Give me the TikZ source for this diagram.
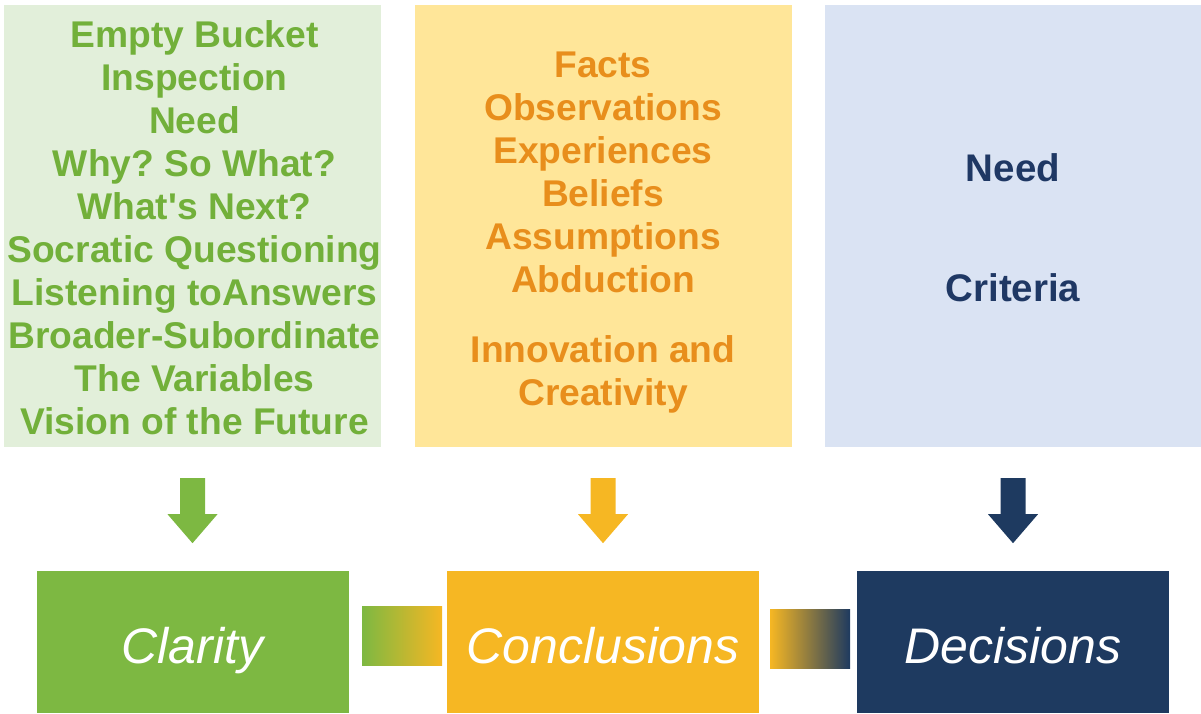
\documentclass[tikz,border=0pt]{standalone}
\usepackage{fontspec}
\setmainfont{Liberation Sans}
\usepackage{tikz}
\usetikzlibrary{positioning}
\definecolor{clarity}{RGB}{125,184,66}
\definecolor{clarityback}{RGB}{226,239,218}
\definecolor{claritytext}{RGB}{114,176,58}
\definecolor{conclusions}{RGB}{246,183,35}
\definecolor{conclusionsback}{RGB}{255,230,153}
\definecolor{conclusionstext}{RGB}{232,142,28}
\definecolor{decisions}{RGB}{30,58,96}
\definecolor{decisionsback}{RGB}{218,227,243}
\definecolor{decisionstext}{RGB}{31,56,100}
\frenchspacing

\begin{document}
\begin{tikzpicture}[x=1pt, y=-1pt]
    % Define styles
    \tikzstyle{panel} = [rectangle, minimum width=377pt, minimum height=442pt, inner sep=0pt]
    \tikzstyle{listtext} = [inner sep=0pt, align=center, font=\fontsize{37.2}{43}\selectfont\bfseries]
    \tikzstyle{result} = [rectangle, minimum width=312pt, minimum height=142pt, inner sep=0pt, text height=45pt, text depth=3pt, text=white, font=\fontsize{50}{60}\selectfont\itshape]
    \tikzstyle{link} = [rectangle, minimum width=80pt, minimum height=59pt, inner sep=0pt]

    \useasboundingbox (0,0) rectangle (1201,714);

    % Panels
    \node (clarityinfo) [panel, fill=clarityback] at (192.5,226) {};
    \node (conclusionsinfo) [panel, fill=conclusionsback] at (603,226) {};
    \node (decisionsinfo) [panel, fill=decisionsback] at (1013,226) {};

    % Panel texts
    \node (claritylist) [listtext, text=claritytext, xshift=2pt, yshift=-2pt] at (clarityinfo.center) {Empty Bucket\\ Inspection\\ Need\\ Why? So What?\\ What\textquotesingle s Next?\\ Socratic Questioning\\ Listening toAnswers\\ Broader-Subordinate\\ The Variables\\ Vision of the Future};
    \node (conclusionslist) [listtext, text=conclusionstext, yshift=-7pt] at (conclusionsinfo.center) {Facts\\ Observations\\ Experiences\\ Beliefs\\ Assumptions\\ Abduction\\[27pt] Innovation and\\ Creativity};
    \node (decisionslist) [listtext, text=decisionstext, yshift=-1.5pt, font=\fontsize{38.5}{43}\selectfont\bfseries] at (decisionsinfo.center) {Need\\[77pt] Criteria};

    % Results
    \node (clarity) [result, fill=clarity, below=124pt of clarityinfo] {Clarity};
    \node (conclusions) [result, fill=conclusions, below=124pt of conclusionsinfo] {Conclusions};
    \node (decisions) [result, fill=decisions, below=124pt of decisionsinfo] {Decisions};

    % Links
    \node (link1) [link, left color=clarity, right color=conclusions] at (402,635.5) {};
    \node (link2) [link, left color=conclusions, right color=decisions] at (810,638.5) {};

    % Arrows
    \foreach \n/\c in {clarityinfo/clarity, conclusionsinfo/conclusions, decisionsinfo/decisions}
        \fill[\c] ([yshift=-31pt]\n.south) ++(-12.5,0) -- ++(0,36) -- ++(-12.5,0) -- ++(25,29) -- ++(25,-29) -- ++(-12.5,0) -- ++(0,-36) -- cycle;
\end{tikzpicture}
\end{document}
